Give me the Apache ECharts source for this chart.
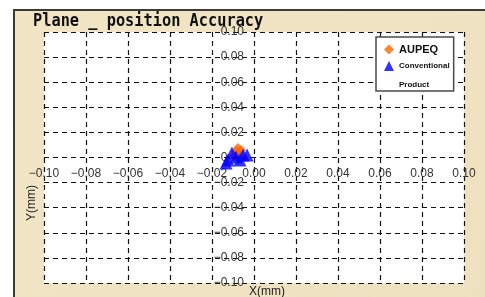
<!DOCTYPE html>
<html>
<head>
<meta charset="utf-8">
<script src="https://cdn.jsdelivr.net/npm/echarts@6/dist/echarts.min.js"></script>
<style>
  html, body { margin: 0; padding: 0; background: #fff; }
  #chart { width: 485px; height: 297px; }
</style>
</head>
<body>
<div id="chart"></div>
<script>
// values (mm)
var aupeqX = [-0.0076, -0.0086, -0.0062, -0.0100, -0.0070];
var aupeqY = [0.0076, 0.0050, 0.0060, 0.0010, 0.0030];
var convX = [-0.0124, -0.0086, -0.0052, -0.0033, -0.0105, -0.0067, -0.0133];
var convY = [-0.0020, 0.0004, 0.0020, 0.0020, 0.0036, -0.0020, -0.0044];
var axisMin = -0.10, axisMax = 0.10, axisStep = 0.02;

function pairs(xs, ys) {
    return xs.map(function (x, i) { return [x, ys[i]]; });
}
function fmt(v) {
    return v.toFixed(2).replace('-', '\u2212');
}

var plotW = 420, plotH = 251;
var dashLine = { color: '#111', width: 1.2, type: [5, 4] };

var chart = echarts.init(document.getElementById('chart'));
chart.setOption({
    backgroundColor: '#fff',
    animation: false,
    graphic: [
        {
            type: 'rect', z: -10, silent: true,
            shape: { x: 14, y: 10, width: 480, height: 300 },
            style: {
                fill: new echarts.graphic.LinearGradient(0, 0, 1, 1, [
                    { offset: 0, color: '#f1e5c6' },
                    { offset: 0.5, color: '#f0e3c3' },
                    { offset: 1, color: '#eee1c0' }
                ]),
                stroke: '#3c3a36', lineWidth: 2
            }
        },
        {
            type: 'text', left: 33, top: 12, scaleX: 0.85, z: 10,
            style: {
                text: 'Plane _ position Accuracy',
                font: 'bold 18px "DejaVu Sans Mono"',
                fill: '#111'
            }
        },
        {
            type: 'text', x: 267, y: 292, z: 10,
            style: { text: 'X(mm)', font: '12px "Liberation Sans"', fill: '#222', align: 'center', verticalAlign: 'middle' }
        },
        {
            type: 'text', x: 32, y: 203, rotation: Math.PI / 2, z: 10,
            style: { text: 'Y(mm)', font: '12px "Liberation Sans"', fill: '#222', align: 'center', verticalAlign: 'middle' }
        }
    ],
    grid: {
        left: 44, top: 32, width: plotW, height: plotH,
        outerBoundsMode: 'none',
        show: true, backgroundColor: '#fff', borderWidth: 0
    },
    legend: {
        orient: 'vertical',
        left: 376, top: 37,
        backgroundColor: '#fff',
        borderColor: '#4a4a4a', borderWidth: 1.5,
        padding: [4, 4, 2, 8],
        itemWidth: 10, itemHeight: 10,
        itemGap: -14,
        data: [
            { name: 'AUPEQ', icon: 'diamond' },
            { name: 'Conventional Product', icon: 'triangle' }
        ],
        formatter: function (name) {
            if (name === 'AUPEQ') return '{a|AUPEQ}';
            return '{e|}\n{c|Conventional}\n{c|Product}';
        },
        textStyle: {
            rich: {
                a: { fontFamily: 'Liberation Sans', fontWeight: 'bold', fontSize: 11, color: '#111', lineHeight: 18 },
                c: { fontFamily: 'Liberation Sans', fontWeight: 'bold', fontSize: 8, color: '#111', lineHeight: 19 },
                e: { lineHeight: 19 }
            }
        }
    },
    xAxis: {
        type: 'value',
        min: axisMin, max: axisMax, interval: axisStep,
        offset: -plotH / 2,
        axisLine: { show: false, onZero: false },
        axisTick: { show: false },
        axisLabel: { formatter: fmt, color: '#333', fontSize: 12, fontFamily: 'Liberation Sans', margin: 10 },
        splitLine: { show: true, showMinLine: true, showMaxLine: true, lineStyle: dashLine }
    },
    yAxis: {
        type: 'value',
        min: axisMin, max: axisMax, interval: axisStep,
        offset: -plotW / 2,
        axisLine: { show: false, onZero: false },
        axisTick: { show: false },
        axisLabel: { formatter: fmt, color: '#333', fontSize: 12, fontFamily: 'Liberation Sans', margin: 10 },
        splitLine: { show: true, showMinLine: true, showMaxLine: true, lineStyle: dashLine }
    },
    series: [
        {
            name: 'AUPEQ', type: 'scatter',
            symbol: 'diamond', symbolSize: 10,
            itemStyle: { color: '#ff6600' },
            data: pairs(aupeqX, aupeqY)
        },
        {
            name: 'Conventional Product', type: 'scatter',
            symbol: 'triangle', symbolSize: 13,
            itemStyle: { color: '#0000ff' },
            data: pairs(convX, convY)
        }
    ]
});
</script>
</body>
</html>
